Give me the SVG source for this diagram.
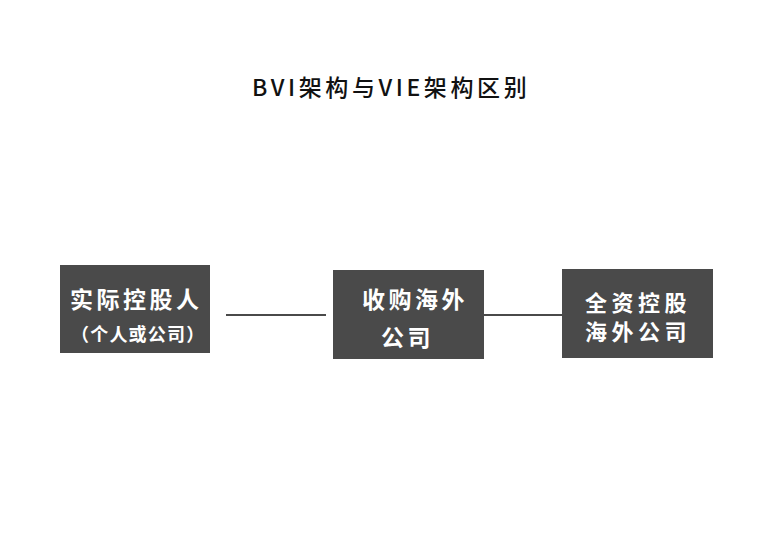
<svg xmlns="http://www.w3.org/2000/svg" width="778" height="550" viewBox="0 0 778 550">
<style>
.box{fill:#4a4a4a}
.t{font-family:"Noto Sans CJK SC","Noto Sans",sans-serif;fill:#ffffff;font-weight:bold;font-size:23px;letter-spacing:3.5px}
.s{font-size:18px;letter-spacing:1.2px}
.n3{font-size:22px;letter-spacing:4.5px}
.title{font-family:"Noto Sans CJK SC","Noto Sans",sans-serif;fill:#111111;font-weight:500;font-size:23px;letter-spacing:3.6px}
.ln{stroke:#4a4a4a;stroke-width:2;fill:none}
</style>
<rect width="778" height="550" fill="#ffffff"/>
<text class="title" x="252" y="96">BVI架构与VIE架构区别</text>
<g id="connectors">
<line class="ln" x1="226" y1="315" x2="326" y2="315"/>
<line class="ln" x1="484" y1="315" x2="562" y2="315"/>
</g>
<g id="node1">
<rect class="box" x="60" y="265" width="150" height="88"/>
<text class="t" x="70" y="308">实际控股人</text>
<text class="t s" x="71" y="341">（个人或公司）</text>
</g>
<g id="node2">
<rect class="box" x="333" y="270" width="151" height="89"/>
<text class="t" x="362" y="308">收购海外</text>
<text class="t" x="381" y="346">公司</text>
</g>
<g id="node3">
<rect class="box" x="562" y="269" width="151" height="89"/>
<text class="t n3" x="585" y="311">全资控股</text>
<text class="t n3" x="585" y="340">海外公司</text>
</g>
</svg>
